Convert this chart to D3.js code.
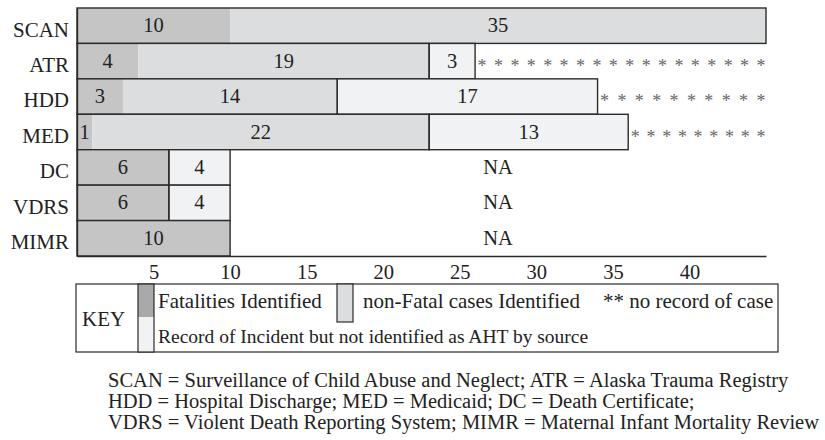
<!DOCTYPE html>
<html>
<head>
<meta charset="utf-8">
<script src="https://cdn.jsdelivr.net/npm/d3@7"></script>
<style>
  body { margin: 0; background: #fff; }
  text { font-family: "Liberation Serif", "Times New Roman", serif; fill: #222; }
</style>
</head>
<body>
<div id="chart"></div>
<script>
// data
const sources = ['SCAN', 'ATR', 'HDD', 'MED', 'DC', 'VDRS', 'MIMR']
const fatalities = [10, 4, 3, 1, 6, 6, 10]
const nonFatal = [35, 19, 14, 22, 0, 0, 0]
const recordOnly = [0, 3, 17, 13, 4, 4, 0]
const noRecordMarks = [0, 18, 10, 9, 0, 0, 0]   // asterisks after the bar
const naNote = ['', '', '', '', 'NA', 'NA', 'NA']
const xTicks = [5, 10, 15, 20, 25, 30, 35, 40]
const footnotes = [
  'SCAN = Surveillance of Child Abuse and Neglect; ATR = Alaska Trauma Registry',
  'HDD = Hospital Discharge; MED = Medicaid; DC = Death Certificate;',
  'VDRS = Violent Death Reporting System; MIMR = Maternal Infant Mortality Review'
]

const W = 825, H = 440
const colors = { fatal: '#c5c5c6', nonFatal: '#dcdddf', record: '#f1f2f4', keyFatal: '#a9a9aa', line: '#2b2b2b' }

const svg = d3.select('#chart').append('svg').attr('width', W).attr('height', H)

const x = d3.scaleLinear().domain([0, 45]).range([77, 766])
const y = d3.scaleBand().domain(sources).range([8, 256]).padding(0)

const rows = sources.map((s, i) => ({
  name: s,
  fatal: fatalities[i],
  nonFatal: nonFatal[i],
  record: recordOnly[i],
  marks: noRecordMarks[i],
  note: naNote[i]
}))

const barG = svg.append('g')
rows.forEach(r => {
  const segs = [
    { v0: 0, v1: r.fatal, fill: colors.fatal, val: r.fatal },
    { v0: r.fatal, v1: r.fatal + r.nonFatal, fill: colors.nonFatal, val: r.nonFatal },
    { v0: r.fatal + r.nonFatal, v1: r.fatal + r.nonFatal + r.record, fill: colors.record, val: r.record }
  ].filter(d => d.val > 0)
  const g = barG.append('g')
  g.selectAll('rect.seg').data(segs).enter().append('rect').classed('seg', true)
    .attr('x', d => x(d.v0)).attr('width', d => x(d.v1) - x(d.v0))
    .attr('y', y(r.name)).attr('height', y.bandwidth())
    .attr('fill', d => d.fill)
  // outlines: identified cases together, record-only box on its own
  const groups = [[0, r.fatal + r.nonFatal], [r.fatal + r.nonFatal, r.fatal + r.nonFatal + r.record]]
    .filter(d => d[1] > d[0])
  g.selectAll('rect.outline').data(groups).enter().append('rect').classed('outline', true)
    .attr('x', d => x(d[0])).attr('width', d => x(d[1]) - x(d[0]))
    .attr('y', y(r.name)).attr('height', y.bandwidth())
    .attr('fill', 'none').attr('stroke', colors.line).attr('stroke-width', 1.4)
  g.selectAll('text.val').data(segs).enter().append('text').classed('val', true)
    .attr('x', d => (x(d.v0) + x(d.v1)) / 2)
    .attr('y', y(r.name) + y.bandwidth() / 2 + 6.5)
    .attr('text-anchor', 'middle').attr('font-size', 20.5)
    .text(d => d.val)
  // asterisks = no record of case
  if (r.marks > 0) {
    const end = r.fatal + r.nonFatal + r.record
    const x0 = x(end) + 7, x1 = x(45) - 5
    const step = r.marks > 1 ? (x1 - x0) / (r.marks - 1) : 0
    g.selectAll('text.ast').data(d3.range(r.marks)).enter().append('text').classed('ast', true)
      .attr('x', i => x0 + i * step)
      .attr('y', y(r.name) + y.bandwidth() / 2 + 10.5)
      .attr('text-anchor', 'middle').attr('font-size', 18)
      .style('fill', '#666')
      .text('*')
  }
  if (r.note) {
    const end = r.fatal + r.nonFatal + r.record
    g.append('text')
      .attr('x', (x(end) + x(45)) / 2)
      .attr('y', y(r.name) + y.bandwidth() / 2 + 6.5)
      .attr('text-anchor', 'middle').attr('font-size', 20.5)
      .text(r.note)
  }
})

// axes
const xAxis = svg.append('g').attr('transform', `translate(0,${y.range()[1]})`)
  .call(d3.axisBottom(x).tickValues(xTicks).tickSize(0).tickSizeOuter(0).tickPadding(8))
xAxis.select('.domain').attr('stroke', colors.line).attr('stroke-width', 1.4)
xAxis.selectAll('text').attr('font-size', 20.5).attr('fill', '#222')

const yAxis = svg.append('g').attr('transform', `translate(${x(0)},0)`)
  .call(d3.axisLeft(y).tickSize(0).tickSizeOuter(0).tickPadding(8))
yAxis.select('.domain').attr('stroke', colors.line).attr('stroke-width', 1.4)
yAxis.selectAll('text').attr('font-size', 21).attr('fill', '#222').attr('dy', '0.52em')

// key
const key = svg.append('g')
key.append('rect').attr('x', 76).attr('y', 284).attr('width', 702).attr('height', 68)
  .attr('fill', 'none').attr('stroke', colors.line).attr('stroke-width', 1.2)
key.append('text').attr('x', 82).attr('y', 326).attr('font-size', 21).text('KEY')
key.append('rect').attr('x', 138).attr('y', 284).attr('width', 16).attr('height', 33).attr('fill', colors.keyFatal)
key.append('rect').attr('x', 138).attr('y', 317).attr('width', 16).attr('height', 35).attr('fill', colors.record)
key.append('rect').attr('x', 138).attr('y', 284).attr('width', 16).attr('height', 68)
  .attr('fill', 'none').attr('stroke', colors.line).attr('stroke-width', 1.2)
key.append('rect').attr('x', 337).attr('y', 284).attr('width', 16).attr('height', 38)
  .attr('fill', colors.nonFatal).attr('stroke', colors.line).attr('stroke-width', 1.2)
key.append('text').attr('x', 158).attr('y', 308).attr('font-size', 21).text('Fatalities Identified')
key.append('text').attr('x', 363).attr('y', 308).attr('font-size', 21).text('non-Fatal cases Identified')
key.append('text').attr('x', 603).attr('y', 308).attr('font-size', 21).text('** no record of case')
key.append('text').attr('x', 158).attr('y', 343).attr('font-size', 19.5).text('Record of Incident but not identified as AHT by source')

// footnotes
svg.append('g').selectAll('text').data(footnotes).enter().append('text')
  .attr('x', 108).attr('y', (d, i) => 387 + i * 21)
  .attr('font-size', 20.5)
  .text(d => d)
</script>
</body>
</html>
